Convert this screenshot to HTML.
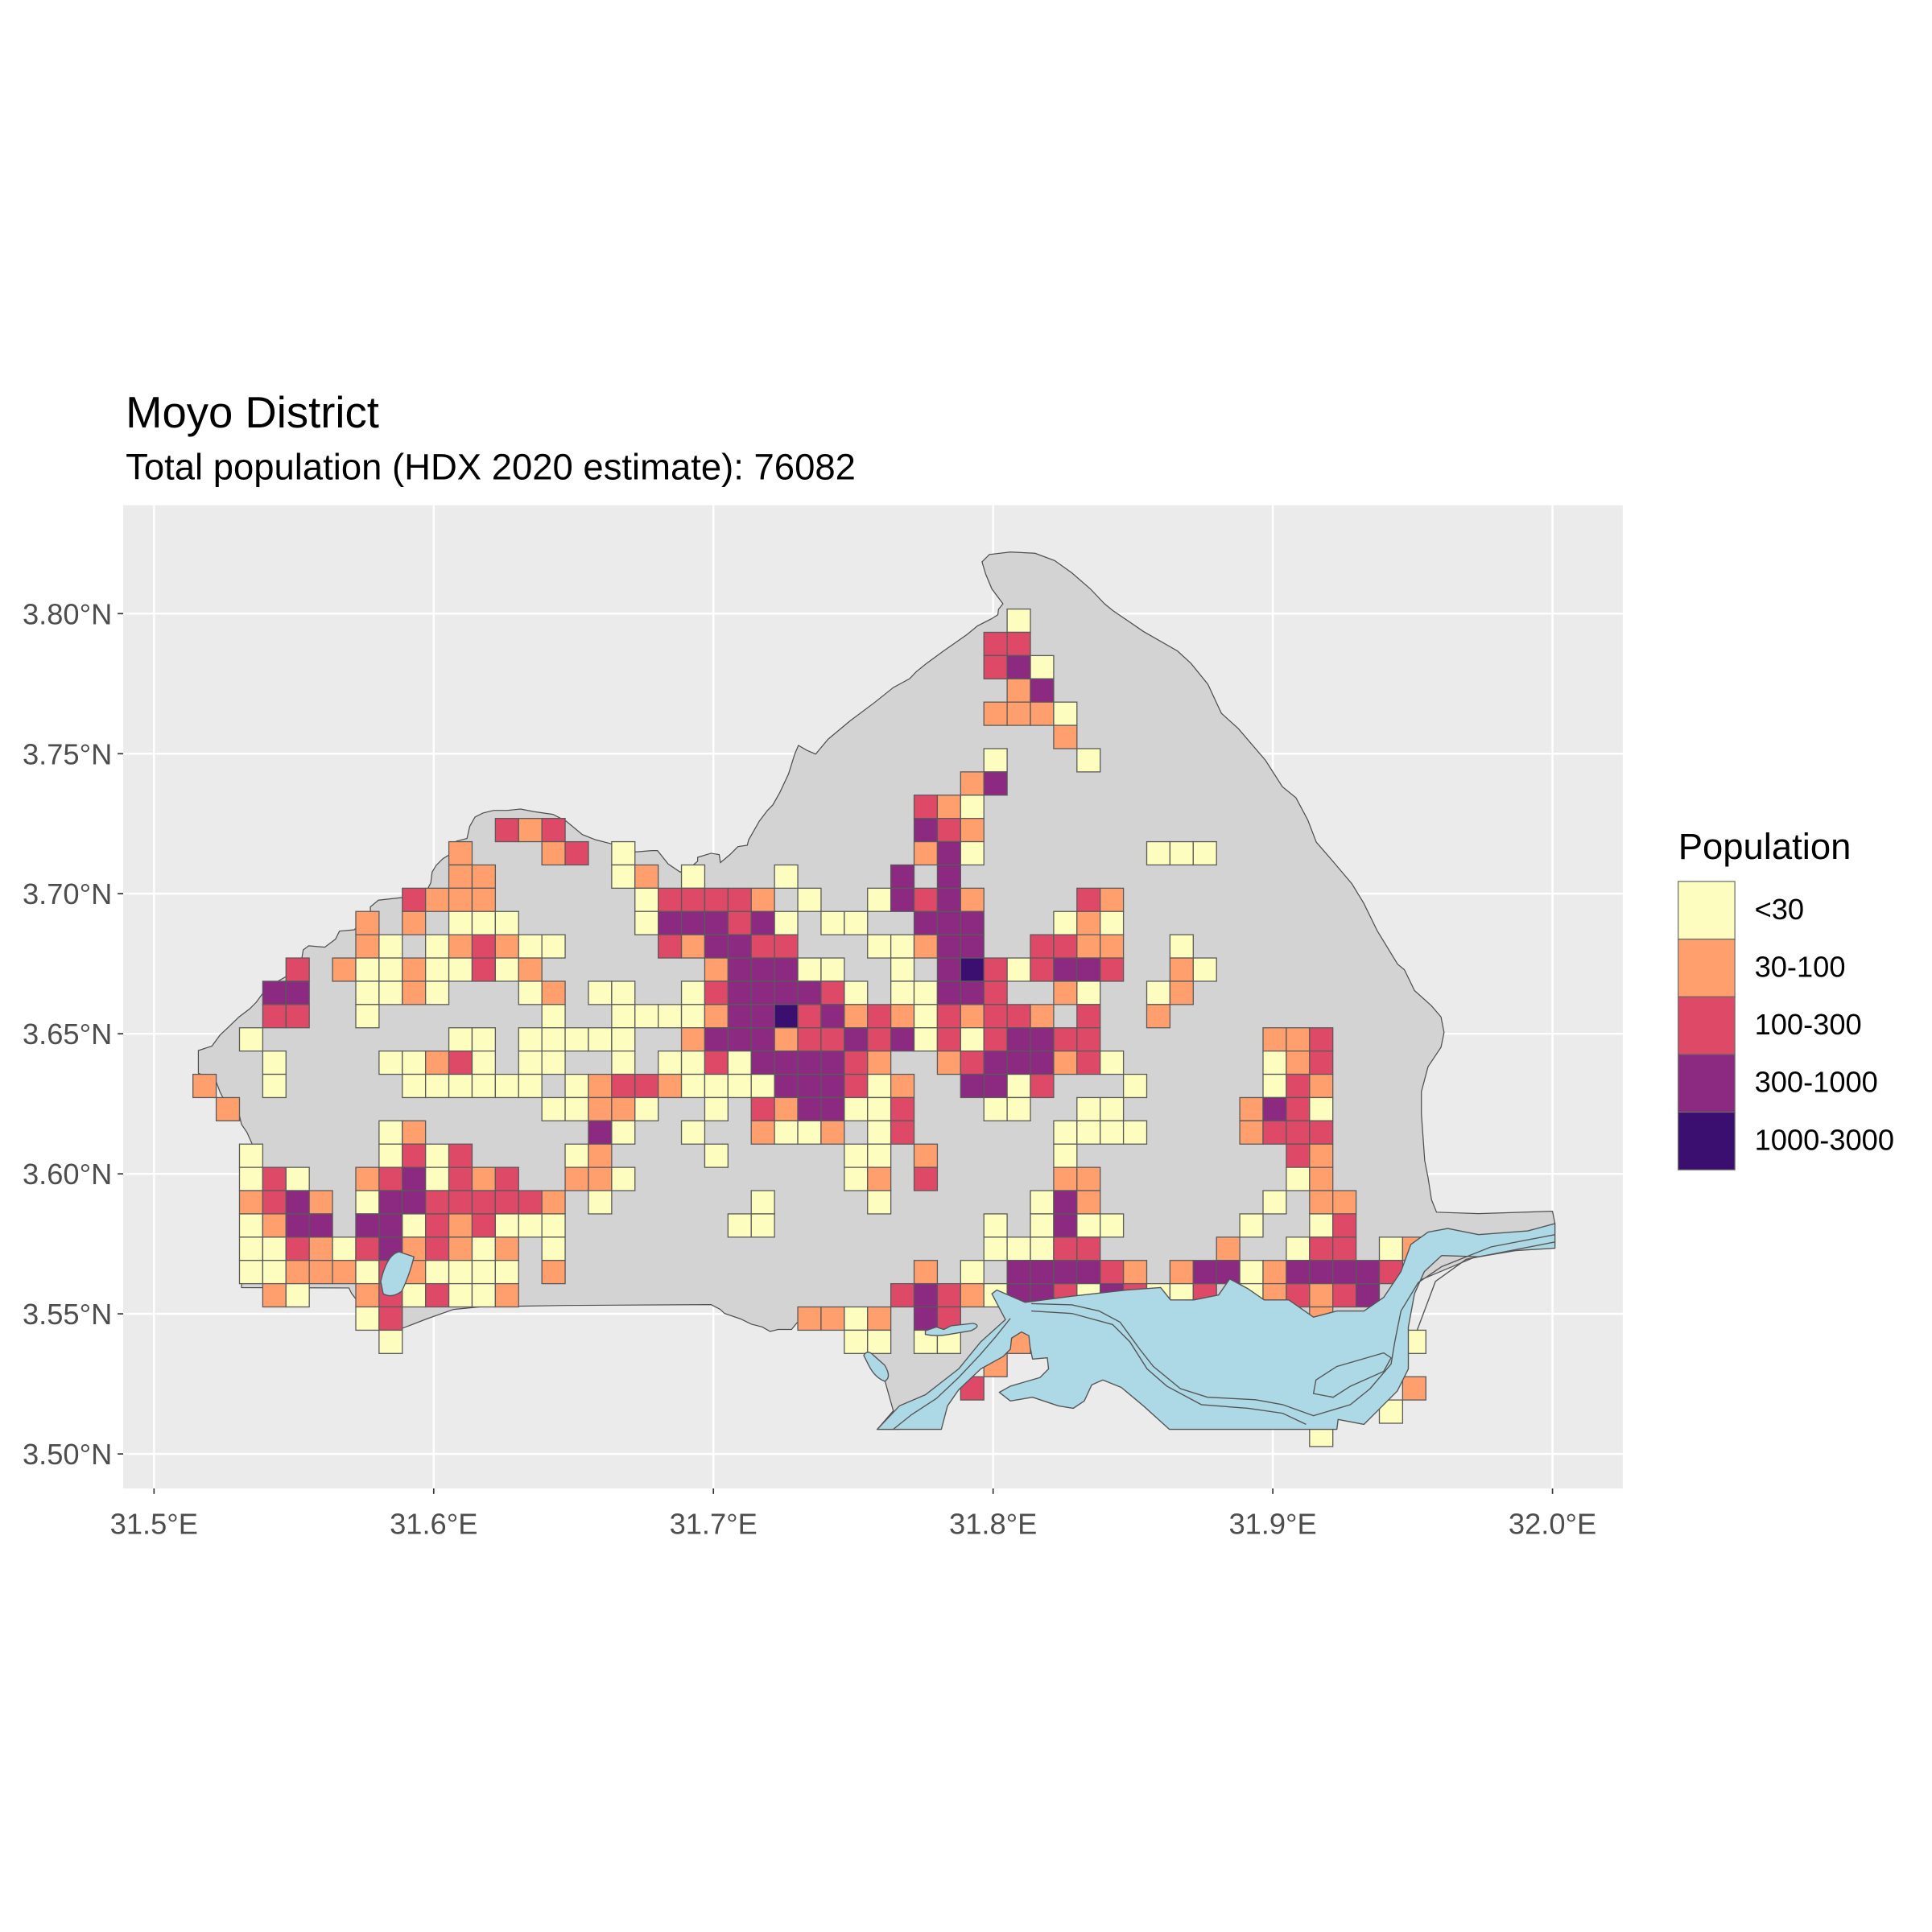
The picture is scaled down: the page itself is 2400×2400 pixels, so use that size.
<!DOCTYPE html>
<html><head><meta charset="utf-8"><style>
html,body{margin:0;padding:0;background:#fff}
svg{display:block}
.c rect{width:1px;height:1px;stroke:#5a5a5a;stroke-width:0.045}
.Y{fill:#FCFDBF}.O{fill:#FE9F6D}.R{fill:#DE4968}.P{fill:#8C2981}.D{fill:#3B0F70}
text{font-family:"Liberation Sans",Arial,sans-serif}
.ax{font-size:23.7px;fill:#4D4D4D}
</style></head><body>
<svg width="2400" height="2400" viewBox="0 0 1568 1568" xmlns="http://www.w3.org/2000/svg">
<rect x="0" y="0" width="1568" height="1568" fill="#fff"/>
<rect x="100" y="410" width="1217" height="798" fill="#EBEBEB"/>
<g stroke="#fff" stroke-width="1.6">
<line x1="125" y1="410" x2="125" y2="1208"/><line x1="352" y1="410" x2="352" y2="1208"/><line x1="579" y1="410" x2="579" y2="1208"/><line x1="806" y1="410" x2="806" y2="1208"/><line x1="1033" y1="410" x2="1033" y2="1208"/><line x1="1260" y1="410" x2="1260" y2="1208"/>
<line x1="100" y1="498" x2="1317" y2="498"/><line x1="100" y1="611.7" x2="1317" y2="611.7"/><line x1="100" y1="725.3" x2="1317" y2="725.3"/><line x1="100" y1="839" x2="1317" y2="839"/><line x1="100" y1="952.7" x2="1317" y2="952.7"/><line x1="100" y1="1066.3" x2="1317" y2="1066.3"/><line x1="100" y1="1180" x2="1317" y2="1180"/>
</g>
<polygon fill="#D3D3D3" stroke="#4D4D4D" stroke-width="0.8" points="161,871 161,852.6 172,849 178.6,840 185,834 193.9,825.4 202.6,818.8 208,813.4 213.5,805.8 224.4,797 232,792.7 239.6,790.5 245,777.5 246.1,770.9 250.5,767.6 263.6,768.7 272.3,762.2 275.5,755.7 287.5,754.6 300.6,740.4 300.6,736 307.1,730.6 326.7,728.4 335.4,724.1 346.3,723 349.6,716.5 350.7,707.8 354,702.3 359.4,696.9 364.8,693.6 369.2,688.1 370.3,682.7 379,680.5 381.2,670.7 385.5,663.1 392,659.8 400.7,657.7 411.7,657.7 422.5,656.6 433.4,658.7 448.7,660.9 459.5,666.4 472.6,677.3 483.5,681.6 496.5,684.9 516.1,691.4 529.2,690.3 533.6,690.3 542.3,701.2 552.1,707.8 559.7,704.5 566.2,699 566.2,695.8 577.1,692.5 583.7,693.6 584.7,700.1 592.4,693.6 598.9,687.1 606.5,686 607.6,681.6 616.3,666.4 622.9,657.7 627.2,653.3 633,643 640,628 645,612 648,605 655,609 662,612 672,600 690,585 710,570 725,558 738.3,550.8 743.8,545 752,538.4 765.8,528.3 774,522.6 785,514.8 793.3,508 804.3,502.4 809.8,499 810.4,494.5 814,490 805,478 800,466 797,456 803,450 820,448 840,449 856,455 870,465 885,478 896.4,490 903.3,495.6 928,512.5 955.6,528.3 966.6,538.4 980.3,555.3 991.3,578.9 1005,591.3 1027,617 1040.8,638.5 1051.8,647.5 1061.4,665.5 1068.3,683.5 1082,699.3 1097.2,717.3 1106.8,733 1117.8,755.5 1134.3,782.5 1139.8,787 1145.3,798.3 1148,803.9 1161.8,816.3 1169.5,825.3 1172,838 1169.5,850 1159,865.7 1153.6,886 1153.6,904 1156.3,942 1159,955.7 1161.8,973.7 1165.9,983.8 1200,985 1260,983 1262,993 1150,1040 1100,1100 950,1110 880,1075 835,1075 815,1080 790,1110 760,1140 730,1160 712,1160 725,1145 718,1120 705,1097 705,1078 698,1062 672.9,1061.7 646.8,1073.6 642.4,1079 631.5,1079 625,1080.6 618.5,1076.9 609.8,1074.7 601,1070.4 588,1066 584.7,1062.8 577.1,1058.8 457.3,1059.5 389.9,1060.6 368.1,1062.7 346.3,1070.4 326.7,1078 288.6,1054 285.3,1049.7 283.2,1045.3 196,1045 200,930 204.8,928.8 200.4,919 196,912.5 193.9,903.8 180.8,890.7 178.6,886.3 175.3,877.6"/>
<g class="c" transform="translate(156.6,494.3) scale(18.88)">
<rect class="Y" x="35" y="0"/>
<rect class="R" x="34" y="1"/><rect class="R" x="35" y="1"/>
<rect class="R" x="34" y="2"/><rect class="P" x="35" y="2"/><rect class="Y" x="36" y="2"/>
<rect class="O" x="35" y="3"/><rect class="P" x="36" y="3"/>
<rect class="O" x="34" y="4"/><rect class="O" x="35" y="4"/><rect class="O" x="36" y="4"/><rect class="Y" x="37" y="4"/>
<rect class="O" x="37" y="5"/>
<rect class="Y" x="34" y="6"/><rect class="Y" x="38" y="6"/>
<rect class="O" x="33" y="7"/><rect class="P" x="34" y="7"/>
<rect class="R" x="31" y="8"/><rect class="O" x="32" y="8"/><rect class="Y" x="33" y="8"/>
<rect class="R" x="13" y="9"/><rect class="O" x="14" y="9"/><rect class="R" x="15" y="9"/><rect class="P" x="31" y="9"/><rect class="R" x="32" y="9"/><rect class="O" x="33" y="9"/>
<rect class="O" x="11" y="10"/><rect class="O" x="15" y="10"/><rect class="R" x="16" y="10"/><rect class="Y" x="18" y="10"/><rect class="O" x="31" y="10"/><rect class="P" x="32" y="10"/><rect class="Y" x="33" y="10"/><rect class="Y" x="41" y="10"/><rect class="Y" x="42" y="10"/><rect class="Y" x="43" y="10"/>
<rect class="O" x="11" y="11"/><rect class="O" x="12" y="11"/><rect class="Y" x="18" y="11"/><rect class="O" x="19" y="11"/><rect class="Y" x="21" y="11"/><rect class="Y" x="25" y="11"/><rect class="P" x="30" y="11"/><rect class="P" x="32" y="11"/>
<rect class="R" x="9" y="12"/><rect class="O" x="10" y="12"/><rect class="O" x="11" y="12"/><rect class="O" x="12" y="12"/><rect class="Y" x="19" y="12"/><rect class="R" x="20" y="12"/><rect class="R" x="21" y="12"/><rect class="R" x="22" y="12"/><rect class="R" x="23" y="12"/><rect class="O" x="24" y="12"/><rect class="Y" x="26" y="12"/><rect class="Y" x="29" y="12"/><rect class="P" x="30" y="12"/><rect class="R" x="31" y="12"/><rect class="P" x="32" y="12"/><rect class="O" x="33" y="12"/><rect class="R" x="38" y="12"/><rect class="O" x="39" y="12"/>
<rect class="O" x="7" y="13"/><rect class="O" x="9" y="13"/><rect class="Y" x="11" y="13"/><rect class="Y" x="12" y="13"/><rect class="Y" x="13" y="13"/><rect class="Y" x="19" y="13"/><rect class="P" x="20" y="13"/><rect class="P" x="21" y="13"/><rect class="P" x="22" y="13"/><rect class="R" x="23" y="13"/><rect class="P" x="24" y="13"/><rect class="Y" x="25" y="13"/><rect class="Y" x="27" y="13"/><rect class="Y" x="28" y="13"/><rect class="P" x="31" y="13"/><rect class="P" x="32" y="13"/><rect class="P" x="33" y="13"/><rect class="Y" x="37" y="13"/><rect class="O" x="38" y="13"/><rect class="Y" x="39" y="13"/>
<rect class="O" x="7" y="14"/><rect class="Y" x="8" y="14"/><rect class="Y" x="10" y="14"/><rect class="O" x="11" y="14"/><rect class="R" x="12" y="14"/><rect class="O" x="13" y="14"/><rect class="Y" x="14" y="14"/><rect class="Y" x="15" y="14"/><rect class="R" x="20" y="14"/><rect class="O" x="21" y="14"/><rect class="P" x="22" y="14"/><rect class="P" x="23" y="14"/><rect class="R" x="24" y="14"/><rect class="R" x="25" y="14"/><rect class="Y" x="29" y="14"/><rect class="Y" x="30" y="14"/><rect class="O" x="31" y="14"/><rect class="P" x="32" y="14"/><rect class="P" x="33" y="14"/><rect class="R" x="36" y="14"/><rect class="R" x="37" y="14"/><rect class="O" x="38" y="14"/><rect class="O" x="39" y="14"/><rect class="Y" x="42" y="14"/>
<rect class="R" x="4" y="15"/><rect class="O" x="6" y="15"/><rect class="Y" x="7" y="15"/><rect class="Y" x="8" y="15"/><rect class="O" x="9" y="15"/><rect class="Y" x="10" y="15"/><rect class="Y" x="11" y="15"/><rect class="R" x="12" y="15"/><rect class="Y" x="13" y="15"/><rect class="O" x="14" y="15"/><rect class="O" x="22" y="15"/><rect class="P" x="23" y="15"/><rect class="P" x="24" y="15"/><rect class="P" x="25" y="15"/><rect class="Y" x="26" y="15"/><rect class="Y" x="27" y="15"/><rect class="Y" x="30" y="15"/><rect class="P" x="32" y="15"/><rect class="D" x="33" y="15"/><rect class="R" x="34" y="15"/><rect class="Y" x="35" y="15"/><rect class="R" x="36" y="15"/><rect class="P" x="37" y="15"/><rect class="P" x="38" y="15"/><rect class="R" x="39" y="15"/><rect class="O" x="42" y="15"/><rect class="Y" x="43" y="15"/>
<rect class="P" x="3" y="16"/><rect class="P" x="4" y="16"/><rect class="Y" x="7" y="16"/><rect class="Y" x="8" y="16"/><rect class="O" x="9" y="16"/><rect class="Y" x="10" y="16"/><rect class="Y" x="14" y="16"/><rect class="O" x="15" y="16"/><rect class="Y" x="17" y="16"/><rect class="Y" x="18" y="16"/><rect class="Y" x="21" y="16"/><rect class="R" x="22" y="16"/><rect class="P" x="23" y="16"/><rect class="P" x="24" y="16"/><rect class="P" x="25" y="16"/><rect class="P" x="26" y="16"/><rect class="R" x="27" y="16"/><rect class="Y" x="28" y="16"/><rect class="Y" x="30" y="16"/><rect class="Y" x="31" y="16"/><rect class="P" x="32" y="16"/><rect class="P" x="33" y="16"/><rect class="R" x="34" y="16"/><rect class="O" x="37" y="16"/><rect class="Y" x="38" y="16"/><rect class="Y" x="41" y="16"/><rect class="O" x="42" y="16"/>
<rect class="R" x="3" y="17"/><rect class="R" x="4" y="17"/><rect class="Y" x="7" y="17"/><rect class="Y" x="15" y="17"/><rect class="Y" x="18" y="17"/><rect class="Y" x="19" y="17"/><rect class="Y" x="20" y="17"/><rect class="Y" x="21" y="17"/><rect class="O" x="22" y="17"/><rect class="P" x="23" y="17"/><rect class="P" x="24" y="17"/><rect class="D" x="25" y="17"/><rect class="R" x="26" y="17"/><rect class="P" x="27" y="17"/><rect class="O" x="28" y="17"/><rect class="R" x="29" y="17"/><rect class="O" x="30" y="17"/><rect class="Y" x="31" y="17"/><rect class="R" x="32" y="17"/><rect class="O" x="33" y="17"/><rect class="R" x="34" y="17"/><rect class="R" x="35" y="17"/><rect class="O" x="36" y="17"/><rect class="R" x="38" y="17"/><rect class="O" x="41" y="17"/>
<rect class="Y" x="2" y="18"/><rect class="Y" x="11" y="18"/><rect class="Y" x="12" y="18"/><rect class="Y" x="14" y="18"/><rect class="Y" x="15" y="18"/><rect class="Y" x="16" y="18"/><rect class="Y" x="17" y="18"/><rect class="Y" x="18" y="18"/><rect class="O" x="21" y="18"/><rect class="P" x="22" y="18"/><rect class="P" x="23" y="18"/><rect class="P" x="24" y="18"/><rect class="O" x="25" y="18"/><rect class="R" x="26" y="18"/><rect class="R" x="27" y="18"/><rect class="P" x="28" y="18"/><rect class="R" x="29" y="18"/><rect class="P" x="30" y="18"/><rect class="Y" x="31" y="18"/><rect class="R" x="32" y="18"/><rect class="Y" x="33" y="18"/><rect class="R" x="34" y="18"/><rect class="P" x="35" y="18"/><rect class="P" x="36" y="18"/><rect class="R" x="37" y="18"/><rect class="R" x="38" y="18"/><rect class="O" x="46" y="18"/><rect class="O" x="47" y="18"/><rect class="R" x="48" y="18"/>
<rect class="Y" x="3" y="19"/><rect class="Y" x="8" y="19"/><rect class="Y" x="9" y="19"/><rect class="O" x="10" y="19"/><rect class="R" x="11" y="19"/><rect class="Y" x="12" y="19"/><rect class="Y" x="14" y="19"/><rect class="Y" x="15" y="19"/><rect class="Y" x="18" y="19"/><rect class="Y" x="20" y="19"/><rect class="Y" x="21" y="19"/><rect class="R" x="22" y="19"/><rect class="Y" x="23" y="19"/><rect class="P" x="24" y="19"/><rect class="P" x="25" y="19"/><rect class="P" x="26" y="19"/><rect class="P" x="27" y="19"/><rect class="R" x="28" y="19"/><rect class="O" x="29" y="19"/><rect class="O" x="32" y="19"/><rect class="R" x="33" y="19"/><rect class="P" x="34" y="19"/><rect class="P" x="35" y="19"/><rect class="P" x="36" y="19"/><rect class="O" x="37" y="19"/><rect class="R" x="38" y="19"/><rect class="Y" x="39" y="19"/><rect class="Y" x="46" y="19"/><rect class="O" x="47" y="19"/><rect class="R" x="48" y="19"/>
<rect class="O" x="0" y="20"/><rect class="Y" x="3" y="20"/><rect class="Y" x="9" y="20"/><rect class="Y" x="10" y="20"/><rect class="Y" x="11" y="20"/><rect class="Y" x="12" y="20"/><rect class="Y" x="13" y="20"/><rect class="Y" x="14" y="20"/><rect class="Y" x="16" y="20"/><rect class="O" x="17" y="20"/><rect class="R" x="18" y="20"/><rect class="R" x="19" y="20"/><rect class="O" x="20" y="20"/><rect class="Y" x="21" y="20"/><rect class="Y" x="22" y="20"/><rect class="Y" x="23" y="20"/><rect class="Y" x="24" y="20"/><rect class="P" x="25" y="20"/><rect class="P" x="26" y="20"/><rect class="P" x="27" y="20"/><rect class="R" x="28" y="20"/><rect class="Y" x="29" y="20"/><rect class="O" x="30" y="20"/><rect class="P" x="33" y="20"/><rect class="P" x="34" y="20"/><rect class="Y" x="35" y="20"/><rect class="R" x="36" y="20"/><rect class="Y" x="40" y="20"/><rect class="Y" x="46" y="20"/><rect class="R" x="47" y="20"/><rect class="O" x="48" y="20"/>
<rect class="O" x="1" y="21"/><rect class="Y" x="15" y="21"/><rect class="Y" x="16" y="21"/><rect class="O" x="17" y="21"/><rect class="O" x="18" y="21"/><rect class="Y" x="19" y="21"/><rect class="Y" x="22" y="21"/><rect class="R" x="24" y="21"/><rect class="O" x="25" y="21"/><rect class="P" x="26" y="21"/><rect class="P" x="27" y="21"/><rect class="Y" x="28" y="21"/><rect class="Y" x="29" y="21"/><rect class="R" x="30" y="21"/><rect class="Y" x="34" y="21"/><rect class="Y" x="35" y="21"/><rect class="Y" x="38" y="21"/><rect class="Y" x="39" y="21"/><rect class="O" x="45" y="21"/><rect class="P" x="46" y="21"/><rect class="R" x="47" y="21"/><rect class="Y" x="48" y="21"/>
<rect class="Y" x="8" y="22"/><rect class="O" x="9" y="22"/><rect class="P" x="17" y="22"/><rect class="Y" x="18" y="22"/><rect class="Y" x="21" y="22"/><rect class="O" x="24" y="22"/><rect class="Y" x="25" y="22"/><rect class="Y" x="26" y="22"/><rect class="O" x="27" y="22"/><rect class="Y" x="29" y="22"/><rect class="R" x="30" y="22"/><rect class="Y" x="37" y="22"/><rect class="Y" x="38" y="22"/><rect class="Y" x="39" y="22"/><rect class="Y" x="40" y="22"/><rect class="O" x="45" y="22"/><rect class="R" x="46" y="22"/><rect class="R" x="47" y="22"/><rect class="R" x="48" y="22"/>
<rect class="Y" x="2" y="23"/><rect class="Y" x="8" y="23"/><rect class="R" x="9" y="23"/><rect class="Y" x="10" y="23"/><rect class="R" x="11" y="23"/><rect class="Y" x="16" y="23"/><rect class="O" x="17" y="23"/><rect class="Y" x="22" y="23"/><rect class="Y" x="28" y="23"/><rect class="Y" x="29" y="23"/><rect class="O" x="31" y="23"/><rect class="Y" x="37" y="23"/><rect class="R" x="47" y="23"/><rect class="O" x="48" y="23"/>
<rect class="Y" x="2" y="24"/><rect class="R" x="3" y="24"/><rect class="Y" x="4" y="24"/><rect class="O" x="7" y="24"/><rect class="R" x="8" y="24"/><rect class="P" x="9" y="24"/><rect class="Y" x="10" y="24"/><rect class="R" x="11" y="24"/><rect class="O" x="12" y="24"/><rect class="R" x="13" y="24"/><rect class="O" x="16" y="24"/><rect class="O" x="17" y="24"/><rect class="Y" x="18" y="24"/><rect class="Y" x="28" y="24"/><rect class="O" x="29" y="24"/><rect class="R" x="31" y="24"/><rect class="O" x="37" y="24"/><rect class="O" x="38" y="24"/><rect class="Y" x="47" y="24"/><rect class="O" x="48" y="24"/>
<rect class="O" x="2" y="25"/><rect class="R" x="3" y="25"/><rect class="P" x="4" y="25"/><rect class="O" x="5" y="25"/><rect class="Y" x="7" y="25"/><rect class="P" x="8" y="25"/><rect class="P" x="9" y="25"/><rect class="R" x="10" y="25"/><rect class="R" x="11" y="25"/><rect class="R" x="12" y="25"/><rect class="R" x="13" y="25"/><rect class="R" x="14" y="25"/><rect class="O" x="15" y="25"/><rect class="Y" x="17" y="25"/><rect class="Y" x="24" y="25"/><rect class="Y" x="29" y="25"/><rect class="Y" x="36" y="25"/><rect class="P" x="37" y="25"/><rect class="O" x="38" y="25"/><rect class="Y" x="46" y="25"/><rect class="O" x="48" y="25"/><rect class="O" x="49" y="25"/>
<rect class="Y" x="2" y="26"/><rect class="O" x="3" y="26"/><rect class="P" x="4" y="26"/><rect class="P" x="5" y="26"/><rect class="P" x="7" y="26"/><rect class="P" x="8" y="26"/><rect class="Y" x="9" y="26"/><rect class="R" x="10" y="26"/><rect class="O" x="11" y="26"/><rect class="R" x="12" y="26"/><rect class="Y" x="13" y="26"/><rect class="Y" x="14" y="26"/><rect class="Y" x="15" y="26"/><rect class="Y" x="23" y="26"/><rect class="Y" x="24" y="26"/><rect class="Y" x="34" y="26"/><rect class="Y" x="36" y="26"/><rect class="P" x="37" y="26"/><rect class="Y" x="38" y="26"/><rect class="Y" x="39" y="26"/><rect class="Y" x="45" y="26"/><rect class="Y" x="48" y="26"/><rect class="R" x="49" y="26"/>
<rect class="Y" x="2" y="27"/><rect class="Y" x="3" y="27"/><rect class="R" x="4" y="27"/><rect class="O" x="5" y="27"/><rect class="Y" x="6" y="27"/><rect class="R" x="7" y="27"/><rect class="P" x="8" y="27"/><rect class="O" x="9" y="27"/><rect class="R" x="10" y="27"/><rect class="O" x="11" y="27"/><rect class="Y" x="12" y="27"/><rect class="O" x="13" y="27"/><rect class="Y" x="15" y="27"/><rect class="Y" x="34" y="27"/><rect class="Y" x="35" y="27"/><rect class="Y" x="36" y="27"/><rect class="R" x="37" y="27"/><rect class="R" x="38" y="27"/><rect class="O" x="44" y="27"/><rect class="Y" x="47" y="27"/><rect class="R" x="48" y="27"/><rect class="R" x="49" y="27"/><rect class="Y" x="51" y="27"/><rect class="O" x="52" y="27"/>
<rect class="Y" x="2" y="28"/><rect class="Y" x="3" y="28"/><rect class="O" x="4" y="28"/><rect class="O" x="5" y="28"/><rect class="O" x="6" y="28"/><rect class="Y" x="7" y="28"/><rect class="R" x="8" y="28"/><rect class="O" x="9" y="28"/><rect class="Y" x="10" y="28"/><rect class="Y" x="11" y="28"/><rect class="Y" x="12" y="28"/><rect class="Y" x="13" y="28"/><rect class="O" x="15" y="28"/><rect class="O" x="31" y="28"/><rect class="Y" x="33" y="28"/><rect class="P" x="35" y="28"/><rect class="P" x="36" y="28"/><rect class="P" x="37" y="28"/><rect class="P" x="38" y="28"/><rect class="R" x="39" y="28"/><rect class="O" x="40" y="28"/><rect class="O" x="42" y="28"/><rect class="P" x="43" y="28"/><rect class="P" x="44" y="28"/><rect class="Y" x="45" y="28"/><rect class="O" x="46" y="28"/><rect class="P" x="47" y="28"/><rect class="P" x="48" y="28"/><rect class="P" x="49" y="28"/><rect class="P" x="50" y="28"/><rect class="R" x="51" y="28"/>
<rect class="O" x="3" y="29"/><rect class="Y" x="4" y="29"/><rect class="O" x="7" y="29"/><rect class="R" x="8" y="29"/><rect class="Y" x="9" y="29"/><rect class="R" x="10" y="29"/><rect class="Y" x="11" y="29"/><rect class="Y" x="12" y="29"/><rect class="O" x="13" y="29"/><rect class="R" x="30" y="29"/><rect class="P" x="31" y="29"/><rect class="R" x="32" y="29"/><rect class="O" x="33" y="29"/><rect class="Y" x="34" y="29"/><rect class="P" x="35" y="29"/><rect class="P" x="36" y="29"/><rect class="R" x="37" y="29"/><rect class="Y" x="38" y="29"/><rect class="P" x="39" y="29"/><rect class="R" x="40" y="29"/><rect class="Y" x="41" y="29"/><rect class="Y" x="42" y="29"/><rect class="R" x="43" y="29"/><rect class="Y" x="45" y="29"/><rect class="O" x="46" y="29"/><rect class="R" x="47" y="29"/><rect class="O" x="48" y="29"/><rect class="R" x="49" y="29"/><rect class="P" x="50" y="29"/>
<rect class="Y" x="7" y="30"/><rect class="R" x="8" y="30"/><rect class="O" x="26" y="30"/><rect class="O" x="27" y="30"/><rect class="Y" x="28" y="30"/><rect class="O" x="29" y="30"/><rect class="P" x="31" y="30"/><rect class="R" x="32" y="30"/><rect class="O" x="48" y="30"/>
<rect class="Y" x="8" y="31"/><rect class="Y" x="28" y="31"/><rect class="Y" x="29" y="31"/><rect class="Y" x="31" y="31"/><rect class="Y" x="32" y="31"/><rect class="O" x="35" y="31"/><rect class="Y" x="52" y="31"/>
<rect class="O" x="34" y="32"/>
<rect class="R" x="33" y="33"/><rect class="O" x="52" y="33"/>
<rect class="Y" x="51" y="34"/>
<rect class="Y" x="48" y="35"/>
</g>
<g fill="#ADD8E6" stroke="#555" stroke-width="0.9" stroke-linejoin="round">
<polygon points="712,1160 730,1141 751,1132 778,1111 796,1089 816,1071 805,1050 809,1047 832,1057 870,1052 914,1047 942,1045 950,1055 969,1055 989,1051 998,1038 1013,1046 1026,1055 1046,1055 1066,1069 1085,1064 1107,1064 1123,1053 1137,1032 1145,1010 1159,1000 1175,997 1200,1002 1240,999 1262,993 1262,1013 1230,1015 1200,1020 1170,1019 1156,1032 1148,1050 1143,1077 1143,1111 1134,1129 1118,1145 1107,1156 1086,1152 1085,1160 949,1160 928,1141 910,1126 895,1120 886,1124 880,1137 871,1143 859,1141 838,1134 820,1137 811,1130 820,1125 844,1118 851,1111 850,1102 838,1103 836,1093 835,1084 829,1081 821,1086 820,1095 814,1101 796,1111 778,1128 769,1141 764,1160"/>
<path d="M309,1040 Q314,1018 324,1016 L336,1020 Q332,1036 326,1048 Q318,1054 311,1050 Z"/>
<path d="M701,1100 Q704,1095 709,1100 L718,1108 Q724,1118 718,1121 Q710,1118 705,1108 Z"/>
<path d="M751,1080 L760,1077 L766,1079 L772,1076 L790,1074 Q797,1076 788,1080 L770,1083 Q760,1085 751,1083 Z"/>
</g>
<g fill="none" stroke="#555" stroke-width="0.9">
<path d="M837,1058 L870,1059 L892,1064 L909,1073 L925,1095 L936,1109 L958,1127 L980,1134 L1019,1136 L1041,1140 L1066,1149 L1096,1140 L1112,1127 L1129,1107 L1132,1089 L1137,1064 L1151,1041 L1170,1028 L1210,1012 L1262,1002"/>
<path d="M837,1064 L870,1066 L903,1075 L917,1089 L931,1111 L947,1125 L975,1140 L1013,1143 L1041,1147 L1060,1156"/>
<path d="M1066,1131 L1068,1120 L1085,1109 L1123,1098 L1129,1102 L1123,1113 L1096,1125 L1082,1134 Z"/>
<path d="M725,1160 L740,1148 L760,1135 L778,1118 L795,1100 L808,1085 L820,1070"/>
<path d="M1150,1080 L1165,1040 L1190,1022 L1262,1008"/>
</g>
<g stroke="#333" stroke-width="1.1">
<line x1="125" y1="1208" x2="125" y2="1212.5"/><line x1="352" y1="1208" x2="352" y2="1212.5"/><line x1="579" y1="1208" x2="579" y2="1212.5"/><line x1="806" y1="1208" x2="806" y2="1212.5"/><line x1="1033" y1="1208" x2="1033" y2="1212.5"/><line x1="1260" y1="1208" x2="1260" y2="1212.5"/>
<line x1="95.5" y1="498" x2="100" y2="498"/><line x1="95.5" y1="611.7" x2="100" y2="611.7"/><line x1="95.5" y1="725.3" x2="100" y2="725.3"/><line x1="95.5" y1="839" x2="100" y2="839"/><line x1="95.5" y1="952.7" x2="100" y2="952.7"/><line x1="95.5" y1="1066.3" x2="100" y2="1066.3"/><line x1="95.5" y1="1180" x2="100" y2="1180"/>
</g>
<g class="ax" text-anchor="end">
<text x="91" y="506.5">3.80°N</text><text x="91" y="620.2">3.75°N</text><text x="91" y="733.8">3.70°N</text><text x="91" y="847.5">3.65°N</text><text x="91" y="961.2">3.60°N</text><text x="91" y="1074.8">3.55°N</text><text x="91" y="1188.5">3.50°N</text>
</g>
<g class="ax" text-anchor="middle">
<text x="125" y="1245">31.5°E</text><text x="352" y="1245">31.6°E</text><text x="579" y="1245">31.7°E</text><text x="806" y="1245">31.8°E</text><text x="1033" y="1245">31.9°E</text><text x="1260" y="1245">32.0°E</text>
</g>
<text x="102" y="347" font-size="35.6" fill="#000">Moyo District</text>
<text x="102" y="389" font-size="29.7" fill="#000">Total population (HDX 2020 estimate): 76082</text>
<text x="1362" y="697" font-size="29.7" fill="#000">Population</text>
<g stroke="#6a6a6a" stroke-width="0.8">
<rect x="1362" y="715.4" width="46" height="46.8" fill="#FCFDBF"/>
<rect x="1362" y="762.2" width="46" height="46.8" fill="#FE9F6D"/>
<rect x="1362" y="809" width="46" height="46.8" fill="#DE4968"/>
<rect x="1362" y="855.8" width="46" height="46.8" fill="#8C2981"/>
<rect x="1362" y="902.6" width="46" height="46.8" fill="#3B0F70"/>
</g>
<g font-size="23.7" fill="#000">
<text x="1424" y="746">&lt;30</text><text x="1424" y="792.8">30-100</text><text x="1424" y="839.6">100-300</text><text x="1424" y="886.4">300-1000</text><text x="1424" y="933.2">1000-3000</text>
</g>
</svg>
</body></html>
